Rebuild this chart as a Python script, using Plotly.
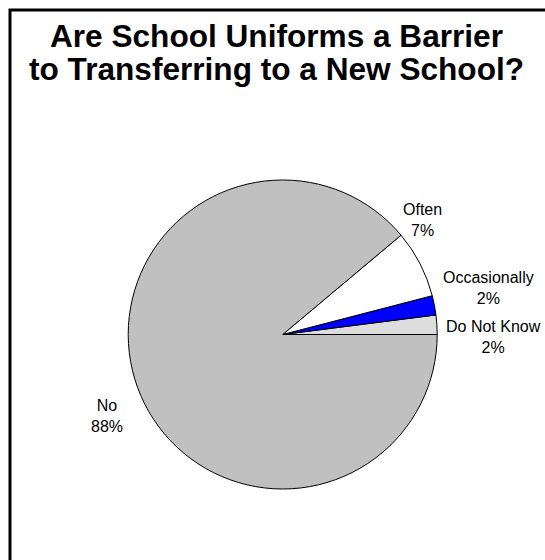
import plotly.graph_objects as go

# Survey responses, in drawing order starting at 3 o'clock, counter-clockwise
categories = ["Do Not Know", "Occasionally", "Often", "No"]
values = [2, 2, 7, 88]
slice_colors = ["#DDDDDD", "#0000FF", "#FFFFFF", "#C0C0C0"]

title_lines = ["Are School Uniforms a Barrier", "to Transferring to a New School?"]

W, H = 545, 560

# Pie geometry in pixels
cx, cy, r = 282.7, 334.5, 154.5

# Plotly ends the first counter-clockwise slice at `rotation`, so shift it
# back by that slice's sweep to make it start at 3 o'clock.
first_sweep = 360.0 * values[0] / sum(values)

fig = go.Figure(
    go.Pie(
        labels=categories,
        values=values,
        sort=False,
        direction="counterclockwise",
        rotation=90 - first_sweep,
        marker=dict(colors=slice_colors, line=dict(color="#000000", width=1)),
        textinfo="none",
        hoverinfo="label+value",
        showlegend=False,
        domain=dict(
            x=[(cx - r) / W, (cx + r) / W],
            y=[1 - (cy + r) / H, 1 - (cy - r) / H],
        ),
    )
)

# Label placement (pixel centres of each two-line label block)
label_pos = {
    "Do Not Know": (493, 337),
    "Occasionally": (488, 288),
    "Often": (422, 219.5),
    "No": (107, 416),
}

annotations = []
for cat, val in zip(categories, values):
    px, py = label_pos[cat]
    annotations.append(
        dict(
            text=f"{cat}<br>{val}%",
            x=px / W,
            y=1 - py / H,
            xref="paper",
            yref="paper",
            xanchor="center",
            yanchor="middle",
            showarrow=False,
            font=dict(family="Liberation Sans, Arial, sans-serif", size=16, color="#000000"),
        )
    )

# Two-line bold heading
for line, py in zip(title_lines, [36.0, 68.5]):
    annotations.append(
        dict(
            text=f"<b>{line}</b>",
            x=276 / W,
            y=1 - py / H,
            xref="paper",
            yref="paper",
            xanchor="center",
            yanchor="middle",
            showarrow=False,
            font=dict(family="Liberation Sans, Arial, sans-serif", size=31.6, color="#000000"),
        )
    )

# Frame around the chart (runs off the right and bottom edges)
shapes = [
    dict(
        type="rect",
        xref="paper",
        yref="paper",
        x0=10 / W,
        x1=1.05,
        y0=-0.05,
        y1=1 - 10 / H,
        line=dict(color="#000000", width=3),
        fillcolor="rgba(0,0,0,0)",
        layer="above",
    )
]

fig.update_layout(
    width=W,
    height=H,
    margin=dict(l=0, r=0, t=0, b=0),
    paper_bgcolor="#FFFFFF",
    plot_bgcolor="#FFFFFF",
    annotations=annotations,
    shapes=shapes,
)

fig.write_html("out.html")
